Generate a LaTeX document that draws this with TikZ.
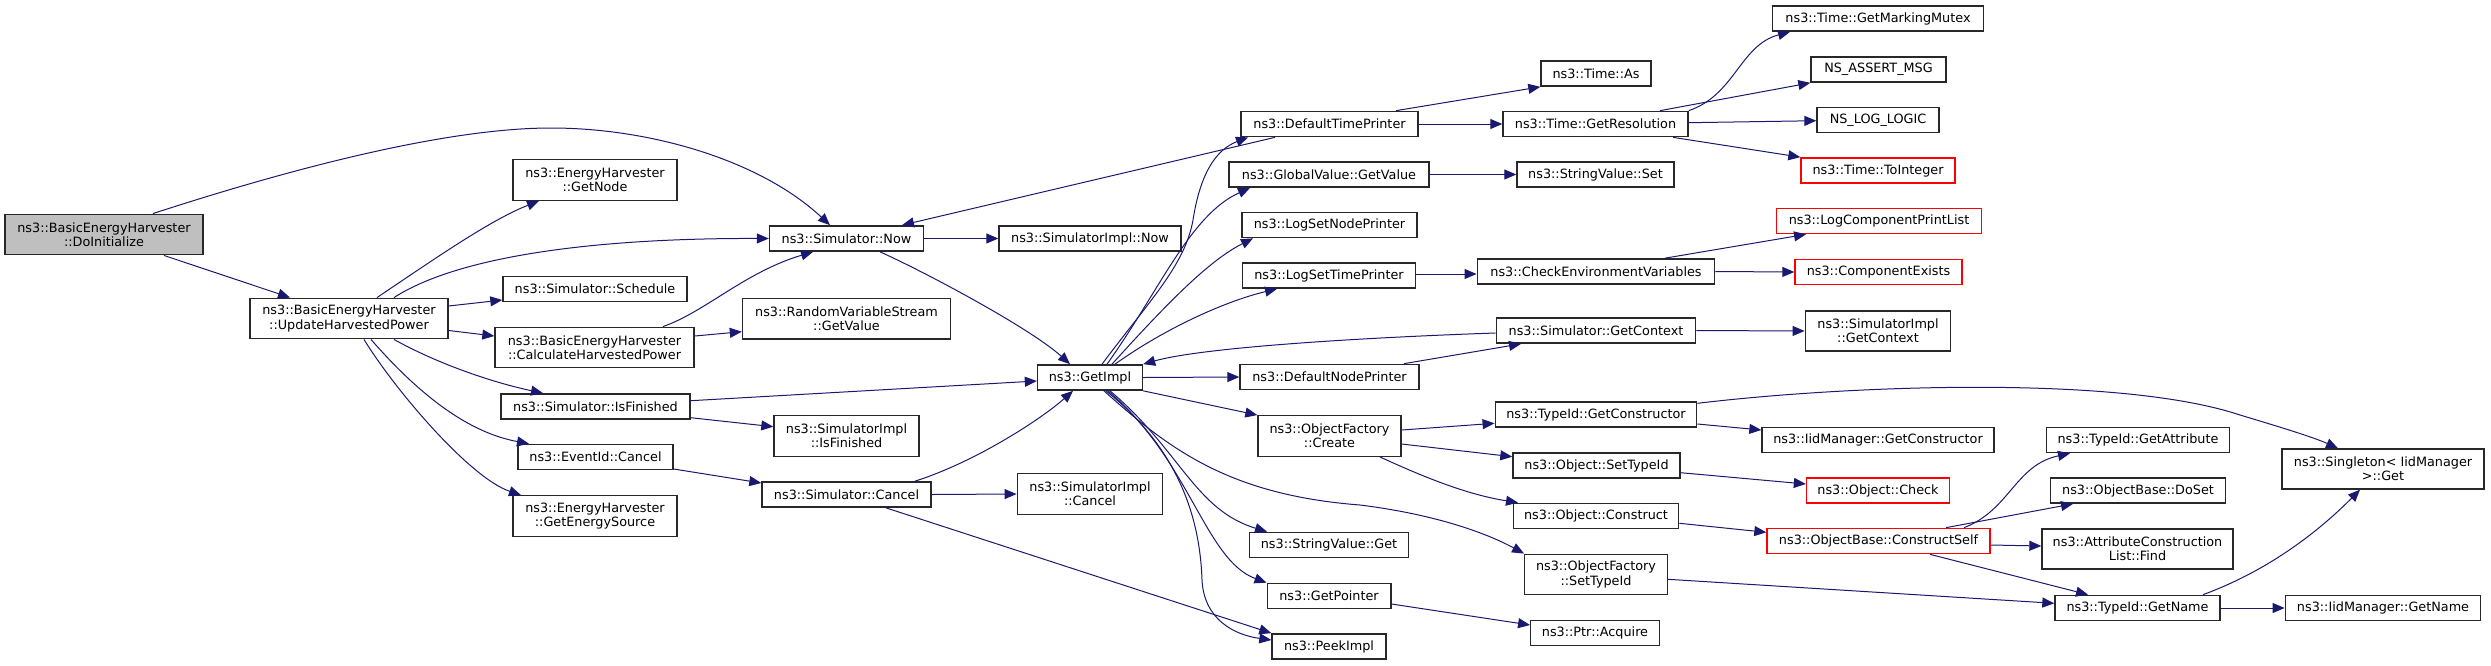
\documentclass[tikz,border=0pt]{standalone}
\usepackage{fontspec}
\setmainfont{DejaVu Sans}
\usetikzlibrary{arrows.meta}
\definecolor{edgeblue}{RGB}{25,25,112}
\definecolor{boxgray}{RGB}{40,40,40}
\definecolor{rootfill}{RGB}{191,191,191}
\begin{document}
\begin{tikzpicture}[x=1pt,y=-1pt,
  box/.style={draw=boxgray, line width=1.4pt, fill=white, inner sep=0pt, align=center, minimum height=25.3pt, font=\fontsize{12.8}{14.3}\selectfont},
  box2/.style={box, minimum height=40.5pt},
  redbox/.style={box, draw=red},
  edge/.style={draw=edgeblue, line width=1.0pt, -{Triangle[length=12pt,width=10pt]}}]
\useasboundingbox (0,0) rectangle (2491,665);
% nodes
\node[box2, fill=rootfill, minimum width=198pt] (DoInit) at (104,234.5) {ns3::BasicEnergyHarvester\\::DoInitialize};
\node[box2, minimum width=198pt] (UHP) at (349,318.5) {ns3::BasicEnergyHarvester\\::UpdateHarvestedPower};
\node[box2, minimum width=164pt] (GetNode) at (595,180) {ns3::EnergyHarvester\\::GetNode};
\node[box, minimum width=154pt] (Now) at (846.5,238.5) {ns3::Simulator::Now};
\node[box, minimum width=184pt] (Schedule) at (595,289) {ns3::Simulator::Schedule};
\node[box2, minimum width=199pt] (CHP) at (594.5,347.5) {ns3::BasicEnergyHarvester\\::CalculateHarvestedPower};
\node[box2, minimum width=208pt] (RVS) at (846.5,318.7) {ns3::RandomVariableStream\\::GetValue};
\node[box, minimum width=189pt] (IsFin) at (595.5,406.5) {ns3::Simulator::IsFinished};
\node[box2, minimum width=145pt] (SIIsFin) at (846.5,436) {ns3::SimulatorImpl\\::IsFinished};
\node[box, minimum width=155pt] (ECancel) at (595.5,457) {ns3::EventId::Cancel};
\node[box, minimum width=169pt] (SCancel) at (846.5,494.5) {ns3::Simulator::Cancel};
\node[box2, minimum width=164pt] (GES) at (595,516) {ns3::EnergyHarvester\\::GetEnergySource};
\node[box, minimum width=110pt] (TimeAs) at (1596,73.5) {ns3::Time::As};
\node[box, minimum width=177pt] (DTP) at (1329.5,124) {ns3::DefaultTimePrinter};
\node[box, minimum width=185pt] (GetRes) at (1595.5,124) {ns3::Time::GetResolution};
\node[box, minimum width=200pt] (GVGet) at (1329,174.5) {ns3::GlobalValue::GetValue};
\node[box, minimum width=157pt] (SVSet) at (1595.5,174.5) {ns3::StringValue::Set};
\node[box, minimum width=175pt] (LSNP) at (1329.5,225) {ns3::LogSetNodePrinter};
\node[box, minimum width=182pt] (SINow) at (1090,238.5) {ns3::SimulatorImpl::Now};
\node[box, minimum width=172.5pt] (LSTP) at (1329,275.5) {ns3::LogSetTimePrinter};
\node[box, minimum width=237.5pt] (CEV) at (1596,271.5) {ns3::CheckEnvironmentVariables};
\node[box, minimum width=199.5pt] (GetCtx) at (1596,330.5) {ns3::Simulator::GetContext};
\node[box, minimum width=105pt] (GetImpl) at (1090,377.5) {ns3::GetImpl};
\node[box2, minimum width=145.5pt] (SICancel) at (1090,494) {ns3::SimulatorImpl\\::Cancel};
\node[box, minimum width=179pt] (DNP) at (1329.5,377) {ns3::DefaultNodePrinter};
\node[box2, minimum width=143pt] (OFCreate) at (1329.5,436) {ns3::ObjectFactory\\::Create};
\node[box, minimum width=201.5pt] (TIGetCons) at (1596,414.5) {ns3::TypeId::GetConstructor};
\node[box, minimum width=167pt] (OSetTypeId) at (1596.5,465.5) {ns3::Object::SetTypeId};
\node[box, minimum width=165.5pt] (OConstruct) at (1596,516) {ns3::Object::Construct};
\node[box, minimum width=158.6pt] (SVGet) at (1329,545) {ns3::StringValue::Get};
\node[box2, minimum width=142.5pt] (OFSetTypeId) at (1596,574.5) {ns3::ObjectFactory\\::SetTypeId};
\node[box, minimum width=123.6pt] (GetPointer) at (1329,596) {ns3::GetPointer};
\node[box, minimum width=114pt] (PeekImpl) at (1329,646.5) {ns3::PeekImpl};
\node[box, minimum width=128.5pt] (PtrAcq) at (1595,633) {ns3::Ptr::Acquire};
\node[box, minimum width=210.5pt] (GMM) at (1878,18.5) {ns3::Time::GetMarkingMutex};
\node[box, minimum width=135pt] (NSAssert) at (1878.5,69.5) {NS\_ASSERT\_MSG};
\node[box, minimum width=122pt] (NSLog) at (1878,120) {NS\_LOG\_LOGIC};
\node[redbox, minimum width=154pt] (ToInt) at (1878,170.5) {ns3::Time::ToInteger};
\node[redbox, minimum width=204.5pt] (LCPL) at (1879,221) {ns3::LogComponentPrintList};
\node[redbox, minimum width=167pt] (CompEx) at (1878.5,272) {ns3::ComponentExists};
\node[box2, minimum width=145.5pt, minimum height=40pt] (SIGetCtx) at (1878,331) {ns3::SimulatorImpl\\::GetContext};
\node[box, minimum width=232pt] (IidGetCons) at (1878,440) {ns3::IidManager::GetConstructor};
\node[redbox, minimum width=143pt] (OCheck) at (1878,490.5) {ns3::Object::Check};
\node[redbox, minimum width=223pt] (ConstructSelf) at (1878.5,541) {ns3::ObjectBase::ConstructSelf};
\node[box, minimum width=182.5pt] (GetAttr) at (2138,440) {ns3::TypeId::GetAttribute};
\node[box, minimum width=174.7pt] (DoSet) at (2138,490.5) {ns3::ObjectBase::DoSet};
\node[box2, minimum width=191pt, minimum height=40pt] (ACLFind) at (2137.5,549) {ns3::AttributeConstruction\\List::Find};
\node[box, minimum width=165pt] (TIGetName) at (2137.5,608) {ns3::TypeId::GetName};
\node[box2, minimum width=202pt, minimum height=40pt] (Singleton) at (2383,469) {ns3::Singleton< IidManager\\>::Get};
\node[box, minimum width=195.5pt] (IidGetName) at (2383,608) {ns3::IidManager::GetName};
% edges
\draw[edge] (DoInit.north -| 153,0) .. controls (250,182) and (430,128) .. (551,128) .. controls (650,128) and (760,160) .. (Now.north -| 830,0);
\draw[edge] (DoInit.south -| 164,0) -- (UHP.north -| 290,0);
\draw[edge] (UHP.north -| 377,0) .. controls (430,262) and (490,220) .. (GetNode.south -| 539,0);
\draw[edge] (UHP.north -| 394,0) .. controls (460,255) and (600,238) .. (Now.west);
\draw[edge] (UHP.east |- 0,306) -- (Schedule.west |- 0,300);
\draw[edge] (UHP.east |- 0,330.5) -- (CHP.west |- 0,336);
\draw[edge] (UHP.south -| 394,0) .. controls (440,365) and (495,383) .. (IsFin.north -| 543,0);
\draw[edge] (UHP.south -| 371,0) .. controls (415,390) and (465,432) .. (ECancel.north -| 529,0);
\draw[edge] (UHP.south -| 364,0) .. controls (395,390) and (470,478) .. (GES.north -| 521,0);
\draw[edge] (CHP.north -| 663,0) .. controls (705,312) and (745,272) .. (Now.south -| 813,0);
\draw[edge] (CHP.east |- 0,336) -- (RVS.west |- 0,331.7);
\draw[edge] (Now.east) -- (SINow.west);
\draw[edge] (Now.south -| 880,0) .. controls (925,272) and (1030,328) .. (GetImpl.north -| 1070,0);
\draw[edge] (DTP.south -| 1275,0) -- (Now.north -| 902,0);
\draw[edge] (IsFin.east |- 0,400.7) -- (GetImpl.west |- 0,381);
\draw[edge] (IsFin.east |- 0,417.7) -- (SIIsFin.west |- 0,426.7);
\draw[edge] (ECancel.east |- 0,469) -- (SCancel.west |- 0,483);
\draw[edge] (SCancel.north -| 915,0) .. controls (975,462) and (1040,420) .. (GetImpl.south -| 1073,0);
\draw[edge] (SCancel.east) -- (SICancel.west);
\draw[edge] (SCancel.south -| 886,0) -- (PeekImpl.north west);
\draw[edge] (GetImpl.north -| 1102,0) .. controls (1150,300) and (1185,265) .. (1193,220) .. controls (1200,175) and (1215,150) .. (DTP.south -| 1248,0);
\draw[edge] (GetImpl.north -| 1107,0) .. controls (1160,290) and (1190,215) .. (GVGet.south -| 1250,0);
\draw[edge] (GetImpl.north -| 1112,0) .. controls (1170,300) and (1210,260) .. (LSNP.south -| 1253,0);
\draw[edge] (GetImpl.north -| 1115,0) .. controls (1170,325) and (1230,300) .. (LSTP.south -| 1277,0);
\draw[edge] (GetImpl.east) -- (DNP.west);
\draw[edge] (GetImpl.south east) -- (OFCreate.north west);
\draw[edge] (GetImpl.south -| 1110,0) .. controls (1180,450) and (1195,510) .. (SVGet.north -| 1267,0);
\draw[edge] (GetImpl.south -| 1108,0) .. controls (1190,460) and (1205,560) .. (GetPointer.north west);
\draw[edge] (GetImpl.south -| 1106,0) .. controls (1180,450) and (1200,520) .. (1202,580) .. controls (1204,620) and (1235,635) .. (PeekImpl.west |- 0,640);
\draw[edge] (GetImpl.south -| 1104,0) .. controls (1170,450) and (1230,495) .. (1360,505) .. controls (1440,515) and (1490,535) .. (OFSetTypeId.north west);
\draw[edge] (GetCtx.west |- 0,333) .. controls (1350,338) and (1200,348) .. (GetImpl.north east);
\draw[edge] (DNP.north -| 1404,0) -- (GetCtx.south -| 1521,0);
\draw[edge] (DTP.north -| 1396,0) -- (TimeAs.south west);
\draw[edge] (DTP.east) -- (GetRes.west);
\draw[edge] (GVGet.east) -- (SVSet.west);
\draw[edge] (LSTP.east |- 0,274) -- (CEV.west |- 0,274);
\draw[edge] (GetRes.north east) .. controls (1735,95) and (1740,45) .. (GMM.south -| 1790,0);
\draw[edge] (GetRes.north -| 1660,0) -- (NSAssert.south west);
\draw[edge] (GetRes.east |- 0,122.7) -- (NSLog.west |- 0,120.7);
\draw[edge] (GetRes.south -| 1673,0) -- (ToInt.north west);
\draw[edge] (CEV.north -| 1665,0) -- (LCPL.south -| 1806,0);
\draw[edge] (CEV.east) -- (CompEx.west);
\draw[edge] (GetCtx.east) -- (SIGetCtx.west);
\draw[edge] (OFCreate.east |- 0,430) -- (TIGetCons.west |- 0,423.3);
\draw[edge] (OFCreate.east |- 0,444) -- (OSetTypeId.west |- 0,456.7);
\draw[edge] (OFCreate.south -| 1380,0) .. controls (1430,480) and (1470,495) .. (OConstruct.north -| 1518,0);
\draw[edge] (TIGetCons.east |- 0,403.3) .. controls (1850,385) and (2120,375) .. (2240,415) .. controls (2290,430) and (2315,438) .. (Singleton.north -| 2338,0);
\draw[edge] (TIGetCons.east |- 0,424) -- (IidGetCons.west |- 0,430);
\draw[edge] (OSetTypeId.east |- 0,472.7) -- (OCheck.west |- 0,484);
\draw[edge] (OConstruct.east |- 0,523.3) -- (ConstructSelf.west |- 0,532.3);
\draw[edge] (ConstructSelf.north -| 1964,0) .. controls (2010,510) and (2015,465) .. (GetAttr.south -| 2070,0);
\draw[edge] (ConstructSelf.north -| 1946,0) -- (DoSet.south -| 2073,0);
\draw[edge] (ConstructSelf.east |- 0,545) -- (ACLFind.west |- 0,546);
\draw[edge] (ConstructSelf.south -| 1930,0) -- (TIGetName.north -| 2088,0);
\draw[edge] (OFSetTypeId.east |- 0,579.3) -- (TIGetName.west |- 0,603.3);
\draw[edge] (GetPointer.east |- 0,604) -- (PtrAcq.west |- 0,625);
\draw[edge] (TIGetName.north -| 2203,0) .. controls (2270,570) and (2320,530) .. (Singleton.south -| 2360,0);
\draw[edge] (TIGetName.east) -- (IidGetName.west);
\end{tikzpicture}
\end{document}
